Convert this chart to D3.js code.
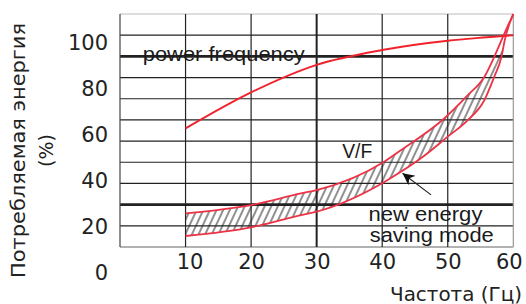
<!DOCTYPE html>
<html>
<head>
<meta charset="utf-8">
<script src="https://cdn.jsdelivr.net/npm/d3@7"></script>
<style>
  body { margin: 0; background: #fff; }
  svg { display: block; }
</style>
</head>
<body>
<div id="chart"></div>
<script>
// подписи осей
const freqTicks = [10, 20, 30, 40, 50, 60];
const pctTicks = [0, 20, 40, 60, 80, 100];

// сетка (в единицах картинки: 0..110, шаг 10)
const gridRows = [0, 10, 20, 30, 40, 50, 60, 70, 80, 90, 100, 110];
const gridCols = [0, 10, 20, 30, 40, 50, 60];
const thickRows = [20, 90];
const thickCols = [30];

// кривые
const powerHz = [10, 20, 30, 40, 50, 56, 60];
const powerVal = [56, 73, 86, 93, 97.4, 99, 100];

const vfHz = [10, 20, 27.6, 30, 40.3, 42.9, 49.5, 53.1, 55.6, 57.1, 58.2, 60];
const vfVal = [15.9, 19.8, 25.3, 26.9, 40.3, 45.8, 60.8, 71.8, 80.4, 89.8, 97.7, 110];

const saveHz = [10, 20, 27.6, 30, 40, 42.9, 45.9, 50, 53.1, 55.6, 57.1, 58.2, 58.7, 60];
const saveVal = [5.2, 9.3, 15.1, 16.7, 30.1, 35.6, 41.9, 52.1, 60, 69.4, 80.4, 89.8, 97.7, 110];

// подписи внутри графика
const notes = [
  { text: "power frequency", hz: 3.47, val: 87.8, len: 162 },
  { text: "V/F", hz: 33.9, val: 42.1, len: 30 },
  { text: "new energy", hz: 37.9, val: 12.4, len: 114 },
  { text: "saving mode", hz: 38.1, val: 2.4, len: 124 },
];
const arrowFrom = [47.45, 24.6];
const arrowTo = [43.1, 34.8];

const W = 526, H = 304;

const svg = d3
  .select("#chart")
  .append("svg")
  .attr("width", W)
  .attr("height", H);

const x = d3.scaleLinear().domain([0, 60]).range([120, 513.3]);
const y = d3.scaleLinear().domain([0, 110]).range([247, 14]);
const yLab = d3.scaleLinear().domain([0, 100]).range([272.5, 42.5]);

// штриховка
const defs = svg.append("defs");
defs
  .append("pattern")
  .attr("id", "hatch")
  .attr("patternUnits", "userSpaceOnUse")
  .attr("width", 6)
  .attr("height", 6)
  .attr("patternTransform", "rotate(25)")
  .append("line")
  .attr("x1", 3)
  .attr("y1", 0)
  .attr("x2", 3)
  .attr("y2", 6)
  .attr("stroke", "#222")
  .attr("stroke-width", 1);

defs
  .append("marker")
  .attr("id", "arr")
  .attr("viewBox", "0 0 10 10")
  .attr("refX", 10)
  .attr("refY", 5)
  .attr("markerWidth", 17)
  .attr("markerHeight", 12)
  .attr("markerUnits", "userSpaceOnUse")
  .attr("orient", "auto")
  .append("path")
  .attr("d", "M0,0L10,5L0,10L3,5Z")
  .attr("fill", "#111");

// сетка
const grid = svg.append("g");
grid
  .selectAll(".row")
  .data(gridRows)
  .enter()
  .append("line")
  .attr("x1", x(0))
  .attr("x2", x(60))
  .attr("y1", (d) => y(d))
  .attr("y2", (d) => y(d))
  .attr("stroke", (d) => (d === 110 ? "#bbb" : d === 0 ? "#666" : "#222"))
  .attr("stroke-width", (d) => (thickRows.includes(d) ? 2.6 : 1.2));

grid
  .selectAll(".col")
  .data(gridCols)
  .enter()
  .append("line")
  .attr("x1", (d) => x(d))
  .attr("x2", (d) => x(d))
  .attr("y1", y(0))
  .attr("y2", y(110))
  .attr("stroke", (d) => (d === 60 ? "#999" : d === 0 ? "#444" : "#222"))
  .attr("stroke-width", (d) => (thickCols.includes(d) ? 2 : 1.2));

// заштрихованная область между V/F и новым режимом
const toPts = (hz, val) => hz.map((h, i) => [x(h), y(val[i])]);
const line = d3.line().curve(d3.curveMonotoneX);

const upperPts = toPts(vfHz, vfVal);
const lowerPts = toPts(saveHz, saveVal);

svg
  .append("path")
  .attr(
    "d",
    line(upperPts) + line(lowerPts.slice().reverse()).replace(/^M/, "L") + "Z"
  )
  .attr("fill", "url(#hatch)")
  .attr("stroke", "none");

svg
  .append("path")
  .attr("d", line(upperPts))
  .attr("fill", "none")
  .attr("stroke", "#ec3346")
  .attr("stroke-width", 1.8);

svg
  .append("path")
  .attr("d", line(lowerPts))
  .attr("fill", "none")
  .attr("stroke", "#ec3346")
  .attr("stroke-width", 1.8);

svg
  .append("path")
  .attr("d", line(toPts(powerHz, powerVal)))
  .attr("fill", "none")
  .attr("stroke", "#f0222b")
  .attr("stroke-width", 1.9);

// подписи
svg
  .selectAll(".note")
  .data(notes)
  .enter()
  .append("text")
  .attr("x", (d) => x(d.hz))
  .attr("y", (d) => y(d.val))
  .attr("textLength", (d) => d.len)
  .attr("lengthAdjust", "spacingAndGlyphs")
  .style("font-family", "'Liberation Sans', Arial, sans-serif")
  .style("font-size", "20px")
  .style("fill", "#1a1a1a")
  .text((d) => d.text);

svg
  .append("line")
  .attr("x1", x(arrowFrom[0]))
  .attr("y1", y(arrowFrom[1]))
  .attr("x2", x(arrowTo[0]))
  .attr("y2", y(arrowTo[1]))
  .attr("stroke", "#222")
  .attr("stroke-width", 1.2)
  .attr("marker-end", "url(#arr)");

// оси
const axisFont = "'DejaVu Sans', sans-serif";

const yAxis = svg
  .append("g")
  .attr("transform", "translate(108,0)")
  .call(d3.axisLeft(yLab).tickValues(pctTicks).tickSize(0).tickPadding(0));
yAxis.select(".domain").remove();
yAxis
  .selectAll("text")
  .style("font-family", axisFont)
  .style("font-size", "21px")
  .style("fill", "#222");

const xAxis = svg
  .append("g")
  .attr("transform", "translate(0,254)")
  .call(d3.axisBottom(x).tickValues(freqTicks).tickSize(0).tickPadding(0));
xAxis.select(".domain").remove();
xAxis
  .selectAll("text")
  .attr("dx", (d) => (d === 10 ? 4 : d === 60 ? -4.5 : 0))
  .style("font-family", axisFont)
  .style("font-size", "21px")
  .style("fill", "#222");

svg
  .append("text")
  .attr("x", 522)
  .attr("y", 300.5)
  .attr("text-anchor", "end")
  .attr("textLength", 132)
  .attr("lengthAdjust", "spacingAndGlyphs")
  .style("font-family", axisFont)
  .style("font-size", "19px")
  .style("fill", "#222")
  .text("Частота (Гц)");

const yTitle = svg
  .append("text")
  .attr("transform", "translate(0,150.5) rotate(-90)")
  .attr("text-anchor", "middle")
  .style("font-family", axisFont)
  .style("font-size", "19px")
  .style("fill", "#222");

yTitle
  .append("tspan")
  .attr("x", 0)
  .attr("y", 25)
  .attr("textLength", 255)
  .attr("lengthAdjust", "spacingAndGlyphs")
  .text("Потребляемая энергия");

yTitle
  .append("tspan")
  .attr("x", 0)
  .attr("y", 53)
  .text("(%)");
</script>
</body>
</html>
